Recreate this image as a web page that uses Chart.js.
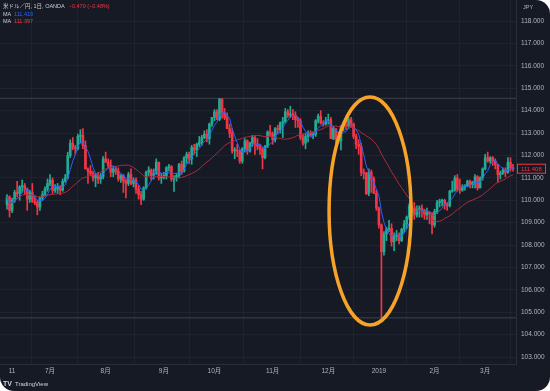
<!DOCTYPE html>
<html>
<head>
<meta charset="utf-8">
<script src="https://cdn.jsdelivr.net/npm/chart.js@4.4.0/dist/chart.umd.min.js"></script>
<style>
html, body { margin: 0; padding: 0; background: #ffffff; }
#wrap { width: 550px; height: 391px; background: #161a25; border-radius: 0 14px 14px 14px; overflow: hidden; }
canvas { display: block; }
</style>
</head>
<body>
<div id="wrap"><canvas id="chart" width="550" height="391"></canvas></div>
<script>
// USD/JPY daily, 2018-06-07 .. 2019-03-18 (one entry per trading day)
var opens = [
  109.80,110.15,109.55,110.00,110.35,110.30,110.60,110.65,110.50,110.05,
  110.35,109.95,109.90,109.70,110.10,110.25,110.50,110.75,110.90,110.45,
  110.50,110.60,110.45,110.85,111.00,112.00,112.55,112.35,112.30,112.85,
  112.90,112.45,111.40,111.30,111.20,111.00,111.10,110.95,111.05,111.85,
  111.70,111.55,111.25,111.40,111.30,110.95,111.10,110.85,110.75,111.15,
  110.75,110.90,110.50,110.25,110.05,110.55,111.25,111.35,111.10,111.20,
  111.70,111.00,111.05,111.10,111.45,111.50,110.95,111.00,111.10,111.60,
  111.30,111.90,112.05,111.85,112.35,112.25,112.50,112.60,112.80,112.95,
  112.75,113.40,113.70,113.95,113.60,114.50,113.90,113.70,113.20,113.00,
  112.20,112.25,112.20,111.75,112.30,112.65,112.20,112.55,112.80,112.50,
  112.40,112.30,111.90,112.40,113.05,112.95,112.70,113.20,113.15,113.45,
  113.50,113.95,113.80,113.85,113.80,113.60,113.55,112.80,112.55,112.85,
  113.00,112.90,112.95,113.55,113.75,113.45,113.40,113.55,113.60,112.75,
  113.20,112.70,112.65,113.30,113.35,113.30,113.60,113.40,112.85,112.50,
  112.40,111.25,111.20,110.30,111.25,110.95,110.30,109.65,108.90,107.70,
  108.50,108.70,108.75,108.15,108.40,108.45,108.20,108.70,108.95,109.25,
  109.75,109.65,109.35,109.60,109.65,109.55,109.35,109.45,109.40,108.90,
  109.50,109.90,109.95,110.00,109.80,109.75,110.40,110.45,111.00,110.50,
  110.45,110.60,110.65,110.85,110.70,110.80,111.05,110.55,111.00,111.40,
  111.90,111.75,111.90,111.75,111.60,111.15,111.20,111.35,111.25,111.70,
  111.45
];
var highs = [
  110.25,110.20,110.10,110.45,110.85,110.65,110.90,110.75,110.55,110.45,
  110.75,110.20,110.00,110.15,110.40,110.60,110.95,111.15,111.00,110.70,
  110.75,110.65,110.95,111.15,112.15,112.70,112.80,112.45,112.95,113.15,
  113.20,112.65,111.45,111.55,111.30,111.20,111.25,111.20,111.95,112.15,
  111.85,111.80,111.50,111.50,111.45,111.15,111.15,110.95,111.25,111.40,
  111.00,111.00,110.65,110.40,110.60,111.30,111.50,111.40,111.40,111.85,
  111.70,111.20,111.25,111.50,111.60,111.55,111.10,111.20,111.65,111.75,
  111.95,112.15,112.15,112.45,112.50,112.55,112.85,112.90,113.10,113.15,
  113.45,113.70,114.05,114.05,114.55,114.55,114.10,113.90,113.40,113.20,
  112.35,112.50,112.25,112.35,112.75,112.70,112.60,112.90,112.85,112.75,
  112.50,112.35,112.45,113.10,113.35,113.05,113.25,113.35,113.50,113.70,
  114.10,114.05,114.20,114.05,113.95,113.70,113.65,112.95,113.00,113.10,
  113.10,113.05,113.60,113.85,114.00,113.55,113.70,113.85,113.70,113.30,
  113.20,113.05,113.35,113.50,113.55,113.70,113.70,113.45,112.95,112.70,
  112.55,111.40,111.25,111.40,111.35,111.05,110.45,109.70,108.95,108.60,
  108.80,109.10,108.95,108.55,108.65,108.55,108.75,109.10,109.30,109.85,
  109.80,109.90,109.75,109.75,109.80,109.60,109.65,109.50,109.45,109.60,
  110.00,110.05,110.05,110.05,109.90,110.45,110.85,111.10,111.15,110.95,
  110.70,110.70,110.90,110.90,110.85,111.15,111.10,111.05,111.45,112.05,
  112.15,111.95,111.95,111.85,111.60,111.30,111.45,111.45,111.90,111.90,
  111.60
];
var lows = [
  109.60,109.25,109.45,109.90,110.15,110.00,110.35,110.25,109.55,109.90,
  109.90,109.80,109.35,109.55,110.00,110.20,110.40,110.65,110.30,110.35,
  110.30,110.25,110.40,110.80,110.95,111.90,112.25,112.05,112.25,112.55,
  112.30,111.40,110.75,111.10,110.85,110.60,110.75,110.75,110.95,111.70,
  111.45,111.05,111.05,111.15,110.85,110.80,110.35,110.10,110.65,110.70,
  110.60,110.30,110.05,109.80,110.00,110.50,111.10,110.90,110.95,111.15,
  110.90,110.75,110.95,110.95,111.30,110.85,110.40,110.85,111.00,111.15,
  111.25,111.65,111.65,111.60,112.05,111.95,112.40,112.45,112.75,112.60,
  112.50,113.30,113.55,113.60,113.55,113.65,113.60,113.20,112.80,112.10,
  111.85,111.95,111.65,111.65,112.15,112.05,112.15,112.40,112.05,112.25,
  112.05,111.40,111.85,112.35,112.85,112.50,112.60,112.95,113.00,112.80,
  113.45,113.70,113.70,113.60,113.25,113.25,112.70,112.45,112.30,112.60,
  112.85,112.75,112.85,113.45,113.40,113.30,113.35,113.40,112.75,112.70,
  112.25,112.55,112.25,113.10,113.15,113.20,113.25,112.75,112.30,112.05,
  111.10,110.95,110.25,110.20,110.35,110.30,109.55,108.75,104.75,107.55,
  108.20,108.60,107.95,107.75,108.20,108.05,108.15,108.55,108.75,109.15,
  109.50,109.15,109.25,109.25,109.25,109.15,109.15,108.95,108.50,108.80,
  109.40,109.70,109.75,109.60,109.55,109.70,110.35,110.40,110.40,110.30,
  110.40,110.45,110.60,110.55,110.55,110.55,110.45,110.55,110.90,111.35,
  111.70,111.65,111.55,111.40,110.80,110.95,111.15,111.05,111.20,111.30,
  111.30
];
var closes = [
  110.15,109.55,110.00,110.35,110.30,110.60,110.65,110.50,110.05,110.35,
  109.95,109.90,109.70,110.10,110.25,110.50,110.75,110.90,110.45,110.50,
  110.60,110.45,110.85,111.00,112.00,112.55,112.35,112.30,112.85,112.90,
  112.45,111.40,111.30,111.20,111.00,111.10,110.95,111.05,111.85,111.70,
  111.55,111.25,111.40,111.30,110.95,111.10,110.85,110.75,111.15,110.75,
  110.90,110.50,110.25,110.05,110.55,111.25,111.35,111.10,111.20,111.70,
  111.00,111.05,111.10,111.45,111.50,110.95,111.00,111.10,111.60,111.30,
  111.90,112.05,111.85,112.35,112.25,112.50,112.60,112.80,112.95,112.75,
  113.40,113.70,113.95,113.60,114.50,113.90,113.70,113.20,113.00,112.20,
  112.25,112.20,111.75,112.30,112.65,112.20,112.55,112.80,112.50,112.40,
  112.30,111.90,112.40,113.05,112.95,112.70,113.20,113.15,113.45,113.50,
  113.95,113.80,113.85,113.80,113.60,113.55,112.80,112.55,112.85,113.00,
  112.90,112.95,113.55,113.75,113.45,113.40,113.55,113.60,112.75,113.20,
  112.70,112.65,113.30,113.35,113.30,113.60,113.40,112.85,112.50,112.40,
  111.25,111.20,110.30,111.25,110.95,110.30,109.65,108.90,107.70,108.50,
  108.70,108.75,108.15,108.40,108.45,108.20,108.70,108.95,109.25,109.75,
  109.65,109.35,109.60,109.65,109.55,109.35,109.45,109.40,108.90,109.50,
  109.90,109.95,110.00,109.80,109.75,110.40,110.45,111.00,110.50,110.45,
  110.60,110.65,110.85,110.70,110.80,111.05,110.55,111.00,111.40,111.90,
  111.75,111.90,111.75,111.60,111.15,111.20,111.35,111.25,111.70,111.45,
  111.408
];

// x tick labels (candle index of first trading day shown)
var xTickIdx = [2, 17, 39, 62, 82, 105, 127, 147, 169, 189];
var xTickLabels = ['11', '7月', '8月', '9月', '10月', '11月', '12月', '2019', '2月', '3月'];

var fastLen = 5, slowLen = 25;

// the circled area (candle index range / price range)
var highlight = { from: 127.3, to: 159.7, top: 114.61, bottom: 104.43 };

var upColor = '#22ab94', downColor = '#f23645';
var font = "'Liberation Sans', 'Noto Sans CJK JP', sans-serif";

function sma(src, n) {
  var out = [];
  for (var i = 0; i < src.length; i++) {
    var s = 0, k = 0;
    for (var j = Math.max(0, i - n + 1); j <= i; j++) { s += src[j]; k++; }
    out.push({ x: i, y: s / k });
  }
  return out;
}

var xMin = -2.77, xMax = 201.19;
var topLevel = Math.max.apply(null, highs), lowLevel = Math.min.apply(null, lows);

var overlay = {
  id: 'overlay',
  afterDatasetsDraw: function(chart) {
    var c = chart.ctx, xs = chart.scales.x, ys = chart.scales.y;
    // highlight ellipse
    var x1 = xs.getPixelForValue(highlight.from), x2 = xs.getPixelForValue(highlight.to);
    var y1 = ys.getPixelForValue(highlight.top), y2 = ys.getPixelForValue(highlight.bottom);
    c.save();
    c.beginPath();
    c.ellipse((x1 + x2) / 2, (y1 + y2) / 2, (x2 - x1) / 2, (y2 - y1) / 2, 0, 0, Math.PI * 2);
    c.strokeStyle = '#f7a328';
    c.lineWidth = 3.5;
    c.stroke();
    c.restore();
  },
  afterDraw: function(chart) {
    var c = chart.ctx, ys = chart.scales.y;
    c.save();
    c.textBaseline = 'middle';
    c.font = '5.5px ' + font;
    c.fillStyle = '#c9ccd4';
    var head = '米ドル／円, 1日, OANDA';
    c.fillText(head, 3, 6);
    c.fillStyle = '#f23645';
    c.fillText('−0.470 (−0.48%)', Math.max(66, 7 + c.measureText(head).width), 6);
    c.fillStyle = '#c9ccd4';
    c.fillText('MA', 3, 14);
    c.fillText('MA', 3, 21);
    c.fillStyle = '#2962ff';
    c.fillText('111.419', 14, 14);
    c.fillStyle = '#f23645';
    c.fillText('111.397', 14, 21);
    // currency
    c.fillStyle = '#b2b5be';
    c.fillText('JPY', 523, 7);
    // last price tag
    var last = closes[closes.length - 1];
    var py = ys.getPixelForValue(last);
    c.fillStyle = '#161a25';
    c.fillRect(517, py - 5, 29, 10);
    c.strokeStyle = '#f23645';
    c.lineWidth = 1;
    c.strokeRect(517.5, py - 4.5, 28, 9);
    c.fillStyle = '#f23645';
    c.font = '6px ' + font;
    c.fillText(last.toFixed(3), 521, py + 0.5);
    // footer
    c.fillStyle = '#d1d4dc';
    c.font = 'bold 7px ' + font;
    c.fillText('TV', 3, 384);
    c.font = '6px ' + font;
    c.fillText('TradingView', 15, 384);
    c.restore();
  }
};

var ctx = document.getElementById('chart').getContext('2d');
var chart = new Chart(ctx, {
  type: 'bar',
  data: {
    datasets: [{
      type: 'line',
      data: sma(closes, fastLen),
      borderColor: '#2962ff',
      borderWidth: 1,
      pointRadius: 0,
      order: 1
    }, {
      type: 'line',
      data: sma(closes, slowLen),
      borderColor: '#b02a3c',
      borderWidth: 1,
      pointRadius: 0,
      order: 2
    }, {
      type: 'line',
      data: [{ x: xMin, y: topLevel }, { x: xMax, y: topLevel }],
      borderColor: '#3e414c',
      borderWidth: 1,
      pointRadius: 0,
      order: 6
    }, {
      type: 'line',
      data: [{ x: xMin, y: lowLevel }, { x: xMax, y: lowLevel }],
      borderColor: '#3e414c',
      borderWidth: 1,
      pointRadius: 0,
      order: 6
    }, {
      // wicks
      data: closes.map(function(c, i) { return { x: i, y: [lows[i], highs[i]] }; }),
      backgroundColor: function(cx) { var i = cx.dataIndex; return closes[i] >= opens[i] ? upColor : downColor; },
      barThickness: 1,
      grouped: false,
      order: 4
    }, {
      // bodies
      data: closes.map(function(c, i) { return { x: i, y: [opens[i], closes[i]] }; }),
      backgroundColor: function(cx) { var i = cx.dataIndex; return closes[i] >= opens[i] ? upColor : downColor; },
      barThickness: 2,
      minBarLength: 1,
      grouped: false,
      order: 3
    }]
  },
  options: {
    responsive: false,
    animation: false,
    layout: { padding: { left: 0, right: 0, top: 0, bottom: 15 } },
    plugins: { legend: { display: false }, tooltip: { enabled: false } },
    scales: {
      x: {
        type: 'linear',
        min: xMin,
        max: xMax,
        offset: false,
        afterBuildTicks: function(s) { s.ticks = xTickIdx.map(function(v) { return { value: v }; }); },
        afterFit: function(s) { s.height = 12; s.paddingLeft = 0; s.paddingRight = 0; },
        ticks: {
          autoSkip: false,
          maxRotation: 0,
          padding: 3,
          color: '#b2b5be',
          font: { size: 6.5, family: font },
          callback: function(v, i) { return xTickLabels[i]; }
        },
        grid: { color: '#1f2330', drawTicks: false },
        border: { color: '#2a2e39' }
      },
      y: {
        position: 'right',
        min: 102.69,
        max: 118.94,
        afterFit: function(s) { s.width = 34; s.paddingTop = 0; s.paddingBottom = 0; },
        ticks: {
          stepSize: 1,
          includeBounds: false,
          padding: 5,
          color: '#b2b5be',
          font: { size: 6.5, family: font },
          callback: function(v) { return v.toFixed(3); }
        },
        grid: { color: '#1f2330', drawTicks: false },
        border: { color: '#2a2e39' }
      }
    }
  },
  plugins: [overlay]
});
</script>
</body>
</html>
